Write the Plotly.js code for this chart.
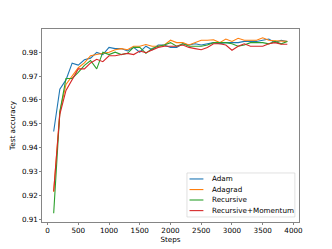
<!DOCTYPE html>
<html><head><meta charset="utf-8">
<script src="https://cdn.plot.ly/plotly-3.0.1.min.js"></script>
<style>body{margin:0;padding:0;background:#fff}#chart{width:332px;height:249px}</style>
</head><body><div id="chart"></div>
<script>
const steps = [100,200,300,400,500,600,700,800,900,1000,1100,1200,1300,1400,1500,1600,1700,1800,1900,2000,2100,2200,2300,2400,2500,2600,2700,2800,2900,3000,3100,3200,3300,3400,3500,3600,3700,3800,3900];
const adam = [0.9468,0.9645,0.9684,0.9754,0.9746,0.9768,0.9775,0.9799,0.979,0.982,0.9815,0.9815,0.9805,0.982,0.980,0.9825,0.981,0.983,0.983,0.982,0.982,0.9835,0.983,0.9835,0.983,0.9835,0.984,0.9835,0.984,0.984,0.984,0.9845,0.9845,0.9845,0.985,0.9855,0.984,0.985,0.9845];
const adagrad = [0.9215,0.955,0.9665,0.970,0.9735,0.9755,0.9785,0.979,0.9795,0.980,0.981,0.9815,0.981,0.9825,0.9825,0.9832,0.9825,0.9825,0.983,0.985,0.984,0.984,0.983,0.984,0.985,0.985,0.9852,0.984,0.9855,0.9845,0.9858,0.985,0.985,0.985,0.986,0.985,0.9848,0.9845,0.9845];
const recursive = [0.9126,0.955,0.969,0.969,0.9715,0.9745,0.9765,0.973,0.980,0.979,0.980,0.979,0.9795,0.982,0.982,0.9795,0.9815,0.9825,0.983,0.984,0.9825,0.9835,0.9825,0.9825,0.9825,0.983,0.984,0.984,0.984,0.9835,0.9825,0.983,0.984,0.984,0.984,0.9835,0.9845,0.9835,0.9845];
const recMomentum = [0.9218,0.954,0.964,0.9685,0.973,0.973,0.9755,0.977,0.976,0.9785,0.9785,0.979,0.9795,0.979,0.9805,0.9798,0.981,0.982,0.9825,0.9825,0.9825,0.983,0.982,0.9815,0.981,0.982,0.9835,0.9835,0.983,0.9808,0.9825,0.9835,0.9825,0.9825,0.9825,0.9835,0.984,0.9833,0.9833];
const names = ["Adam","Adagrad","Recursive","Recursive+Momentum"];
const colors = ["#1f77b4","#ff7f0e","#2ca02c","#d62728"];
const series = [adam, adagrad, recursive, recMomentum];
const xTicks = [0,500,1000,1500,2000,2500,3000,3500,4000];
const yTicks = [0.91,0.92,0.93,0.94,0.95,0.96,0.97,0.98];

const traces = series.map((s,i)=>({x:steps,y:s,type:'scatter',mode:'lines',name:names[i],line:{color:colors[i],width:1.1},showlegend:false}));
const font = {family:'DejaVu Sans',size:7.2,color:'#000'};
const axisCommon = {showline:true,mirror:true,linecolor:'#333',linewidth:0.6,ticks:'outside',ticklen:2,tickwidth:0.6,tickcolor:'#333',showgrid:false,zeroline:false,tickfont:font};

// custom matplotlib-style legend (paper coordinates)
const legY = [0.223,0.168,0.114,0.059];
const shapes = [{type:'rect',xref:'paper',yref:'paper',x0:0.564,x1:0.984,y0:0.026,y1:0.254,line:{color:'#ccc',width:0.6},fillcolor:'rgba(255,255,255,0.8)',layer:'above'}];
const annotations = [];
names.forEach((n,i)=>{
  shapes.push({type:'line',xref:'paper',yref:'paper',x0:0.574,x1:0.628,y0:legY[i],y1:legY[i],line:{color:colors[i],width:1.1},layer:'above'});
  annotations.push({xref:'paper',yref:'paper',x:0.652,y:legY[i],xanchor:'left',yanchor:'middle',text:n,showarrow:false,font:font});
});

Plotly.newPlot('chart', traces, {
  width:332,height:249,
  margin:{l:42,r:33,t:29,b:27},
  paper_bgcolor:'#fff',plot_bgcolor:'#fff',
  font:font,
  xaxis:Object.assign({},axisCommon,{range:[-90,4090],tickvals:xTicks,ticktext:xTicks.map(String),title:{text:'Steps',font:font,standoff:2}}),
  yaxis:Object.assign({},axisCommon,{range:[0.9089,0.9897],tickvals:yTicks,ticktext:yTicks.map(v=>v.toFixed(2)),title:{text:'Test accuracy',font:font,standoff:5}}),
  showlegend:false,
  shapes:shapes,
  annotations:annotations
},{staticPlot:true,displayModeBar:false});
</script></body></html>
